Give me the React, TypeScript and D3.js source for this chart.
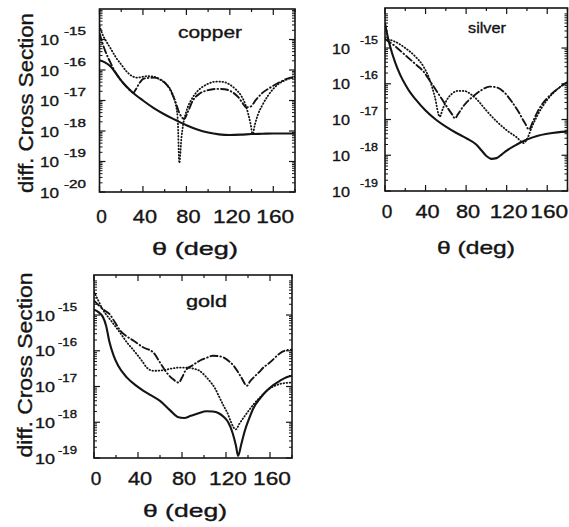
import React from "react";
import * as d3 from "d3";

type Pt = [number, number]; // [theta (deg), log10 of diff. cross section]

const thetaTicks = [0, 40, 80, 120, 160];
const thetaMinor = [20, 60, 100, 140, 180];
const copperExpTicks = [-15, -16, -17, -18, -19, -20];
const silverExpTicks = [-15, -16, -17, -18, -19];
const goldExpTicks = [-15, -16, -17, -18, -19];

// copper
const cuSolid: Pt[] = [[0,-15.68],[5,-15.75],[10,-15.88],[15,-16.1],[20,-16.35],[25,-16.55],[30,-16.72],[40,-17.0],[50,-17.25],[60,-17.46],[70,-17.64],[80,-17.81],[90,-17.95],[100,-18.05],[110,-18.11],[120,-18.13],[130,-18.12],[140,-18.1],[150,-18.09],[160,-18.08],[170,-18.08],[180,-18.08]];
const cuDotted: Pt[] = [[0,-14.55],[3,-14.85],[6,-15.05],[10,-15.28],[15,-15.58],[20,-15.82],[25,-16.05],[30,-16.2],[35,-16.25],[40,-16.22],[45,-16.2],[50,-16.22],[55,-16.3],[60,-16.42],[65,-16.62],[68,-16.85],[70,-17.1],[72,-17.6],[73.5,-19.05],[75.5,-18.2],[77,-17.8],[80,-17.35],[85,-16.95],[90,-16.7],[95,-16.55],[100,-16.45],[105,-16.39],[110,-16.38],[115,-16.4],[120,-16.48],[125,-16.62],[130,-16.82],[134,-17.1],[137,-17.45],[139,-17.75],[141,-18.1],[143,-17.8],[146,-17.45],[150,-17.15],[155,-16.85],[160,-16.62],[165,-16.45],[170,-16.35],[175,-16.28],[180,-16.25]];
const cuDashDot: Pt[] = [[0,-14.8],[5,-15.35],[10,-15.75],[15,-16.1],[20,-16.35],[25,-16.55],[29,-16.7],[31,-16.75],[34,-16.6],[37,-16.42],[41,-16.28],[50,-16.25],[58,-16.35],[65,-16.65],[70,-17.05],[74,-17.45],[78,-17.6],[81,-17.4],[86,-17.0],[92,-16.78],[100,-16.66],[108,-16.62],[115,-16.63],[122,-16.72],[128,-16.9],[132,-17.1],[135,-17.22],[139,-17.2],[144,-16.98],[150,-16.75],[157,-16.58],[166,-16.4],[175,-16.26],[180,-16.24]];

// silver
const agSolid: Pt[] = [[0,-14.3],[2,-14.6],[5,-14.95],[10,-15.4],[15,-15.75],[20,-16.02],[25,-16.25],[30,-16.43],[40,-16.75],[50,-17.0],[60,-17.2],[70,-17.37],[80,-17.52],[90,-17.7],[95,-17.86],[100,-18.02],[105,-18.1],[110,-18.08],[115,-17.98],[120,-17.87],[130,-17.7],[140,-17.56],[150,-17.46],[160,-17.4],[170,-17.36],[180,-17.34]];
const agDotted: Pt[] = [[0,-14.75],[8,-14.8],[20,-15.0],[30,-15.24],[38,-15.52],[44,-15.88],[49,-16.35],[54,-16.92],[57,-16.7],[61,-16.45],[66,-16.28],[72,-16.2],[78,-16.2],[84,-16.28],[90,-16.42],[100,-16.75],[110,-17.05],[120,-17.3],[130,-17.5],[137,-17.66],[140,-17.55],[145,-17.2],[150,-16.9],[160,-16.45],[170,-16.15],[180,-15.95]];
const agDashDot: Pt[] = [[0,-14.75],[10,-14.95],[20,-15.2],[30,-15.45],[38,-15.66],[45,-15.95],[52,-16.25],[60,-16.6],[66,-16.85],[69,-16.97],[72,-16.85],[78,-16.6],[87,-16.35],[95,-16.18],[103,-16.08],[110,-16.1],[118,-16.25],[125,-16.5],[132,-16.8],[138,-17.1],[142,-17.28],[146,-17.05],[152,-16.7],[160,-16.4],[170,-16.15],[180,-15.95]];

// gold
const auSolid: Pt[] = [[0,-14.85],[4,-14.92],[8,-15.05],[11,-15.3],[14,-15.75],[18,-16.15],[22,-16.42],[30,-16.75],[38,-16.97],[45,-17.12],[52,-17.25],[60,-17.4],[69,-17.66],[76,-17.85],[82,-17.88],[88,-17.82],[95,-17.75],[102,-17.69],[108,-17.7],[113,-17.74],[118,-17.85],[122,-18.0],[126,-18.3],[129,-18.65],[131,-18.94],[134,-18.6],[137,-18.25],[141,-17.9],[145,-17.6],[151,-17.33],[157,-17.12],[163,-16.96],[169,-16.84],[175,-16.74],[180,-16.7]];
const auDotted: Pt[] = [[0,-14.35],[4,-14.6],[8,-14.85],[14,-15.1],[19,-15.3],[25,-15.55],[30,-15.77],[35,-15.95],[39,-16.1],[44,-16.3],[48,-16.47],[54,-16.56],[62,-16.55],[70,-16.5],[78,-16.47],[84,-16.47],[90,-16.5],[96,-16.56],[101,-16.7],[105,-16.84],[110,-17.05],[114,-17.3],[118,-17.55],[121,-17.72],[124,-17.95],[127,-18.15],[129,-18.2],[132,-18.05],[136,-17.87],[141,-17.66],[145,-17.5],[151,-17.3],[157,-17.12],[163,-17.0],[169,-16.93],[175,-16.9],[180,-16.89]];
const auDashDot: Pt[] = [[0,-14.6],[5,-14.75],[10,-14.88],[14,-14.97],[19,-15.2],[24,-15.44],[30,-15.6],[36,-15.72],[45,-15.91],[54,-16.05],[60,-16.33],[66,-16.61],[72,-16.8],[77,-16.89],[80,-16.75],[83,-16.56],[90,-16.4],[96,-16.28],[102,-16.2],[108,-16.14],[113,-16.15],[118,-16.19],[123,-16.3],[127,-16.42],[131,-16.6],[134,-16.75],[139,-16.98],[142,-16.85],[145,-16.75],[150,-16.6],[154,-16.47],[159,-16.35],[163,-16.24],[167,-16.12],[171,-16.03],[176,-15.98],[180,-15.97]];

const FONT = "'Liberation Sans', Arial, Helvetica, sans-serif";
const INK = "#141414";

interface PanelSpec {
  id: string;
  label: string;
  left: number; right: number; top: number; bottom: number;
  yMin: number; yMax: number;
  expTicks: number[];
  solid: Pt[]; dotted: Pt[]; dashdot: Pt[];
  tenX: number; tenW: number; supX: number; supW: number;
  xLabBase: number;
  thetaCx: number; thetaW: number; thetaBase: number;
  lab: { x: number; w: number; base: number; fs: number };
  yTitle?: { x: number; cy: number; len: number };
}

const panels: PanelSpec[] = [
  {
    id: "cu", label: "copper", left: 99.5, right: 295, top: 9, bottom: 192,
    yMin: -20, yMax: -14, expTicks: copperExpTicks,
    solid: cuSolid, dotted: cuDotted, dashdot: cuDashDot,
    tenX: 40, tenW: 19, supX: 64, supW: 22,
    xLabBase: 223, thetaCx: 195, thetaW: 86, thetaBase: 255,
    lab: { x: 178, w: 64, base: 38, fs: 17 },
    yTitle: { x: 33, cy: 103, len: 180 },
  },
  {
    id: "ag", label: "silver", left: 385, right: 567.5, top: 8, bottom: 191,
    yMin: -19, yMax: -13.88, expTicks: silverExpTicks,
    solid: agSolid, dotted: agDotted, dashdot: agDashDot,
    tenX: 332, tenW: 18, supX: 360, supW: 18,
    xLabBase: 218, thetaCx: 476, thetaW: 78, thetaBase: 254,
    lab: { x: 468, w: 38, base: 33, fs: 15 },
  },
  {
    id: "au", label: "gold", left: 94, right: 292, top: 275, bottom: 458,
    yMin: -19, yMax: -13.88, expTicks: goldExpTicks,
    solid: auSolid, dotted: auDotted, dashdot: auDashDot,
    tenX: 35, tenW: 20, supX: 58, supW: 19,
    xLabBase: 485, thetaCx: 185, thetaW: 84, thetaBase: 517,
    lab: { x: 186, w: 41, base: 307, fs: 16 },
    yTitle: { x: 32, cy: 365, len: 185 },
  },
];

const textInk = { fill: INK, stroke: INK, strokeWidth: 0.35 };

function Panel({ p }: { p: PanelSpec }) {
  const x = d3.scaleLinear().domain([0, 180]).range([p.left, p.right]);
  const y = d3.scaleLog().domain([Math.pow(10, p.yMin), Math.pow(10, p.yMax)]).range([p.bottom, p.top]);
  const line = d3
    .line<Pt>()
    .x((d) => x(d[0]))
    .y((d) => y(Math.pow(10, d[1])))
    .curve(d3.curveMonotoneX);

  const minorY: number[] = [];
  for (let n = Math.floor(p.yMin); n <= Math.ceil(p.yMax); n++) {
    for (let k = 2; k <= 9; k++) {
      const v = k * Math.pow(10, n);
      if (v > Math.pow(10, p.yMin) && v < Math.pow(10, p.yMax)) minorY.push(v);
    }
  }
  const majorLen = 6;
  const minorLen = 3;
  const clipId = `clip-${p.id}`;

  return (
    <g>
      <defs>
        <clipPath id={clipId}>
          <rect x={p.left} y={p.top} width={p.right - p.left} height={p.bottom - p.top} />
        </clipPath>
      </defs>
      <rect x={p.left} y={p.top} width={p.right - p.left} height={p.bottom - p.top}
        fill="none" stroke={INK} strokeWidth={1.6} />
      {thetaTicks.concat(thetaMinor).map((t) => {
        const len = thetaTicks.includes(t) ? majorLen : minorLen;
        const xx = x(t);
        return (
          <g key={`xt${t}`} stroke={INK} strokeWidth={1.2}>
            <line x1={xx} x2={xx} y1={p.bottom} y2={p.bottom - len} />
            <line x1={xx} x2={xx} y1={p.top} y2={p.top + len} />
          </g>
        );
      })}
      {p.expTicks.map((e) => {
        const yy = y(Math.pow(10, e));
        return (
          <g key={`yt${e}`} stroke={INK} strokeWidth={1.2}>
            <line x1={p.left} x2={p.left + majorLen} y1={yy} y2={yy} />
            <line x1={p.right} x2={p.right - majorLen} y1={yy} y2={yy} />
          </g>
        );
      })}
      {minorY.map((v, i) => {
        const yy = y(v);
        return (
          <g key={`ym${i}`} stroke={INK} strokeWidth={1}>
            <line x1={p.left} x2={p.left + minorLen} y1={yy} y2={yy} />
            <line x1={p.right} x2={p.right - minorLen} y1={yy} y2={yy} />
          </g>
        );
      })}
      <g clipPath={`url(#${clipId})`} fill="none" stroke={INK}>
        <path d={line(p.solid) || ""} strokeWidth={2.1} strokeLinejoin="round" />
        <path d={line(p.dotted) || ""} strokeWidth={1.8} strokeDasharray="0.6 2.5" strokeLinecap="round" />
        <path d={line(p.dashdot) || ""} strokeWidth={1.9} strokeDasharray="7 3 0.6 3" strokeLinecap="round" />
      </g>
      {p.expTicks.map((e) => {
        const yy = y(Math.pow(10, e));
        return (
          <g key={`yl${e}`} {...textInk} fontFamily={FONT}>
            <text x={p.tenX} y={yy + 5.5} fontSize={15} textLength={p.tenW} lengthAdjust="spacingAndGlyphs">10</text>
            <text x={p.supX} y={yy - 4.5} fontSize={10.5} textLength={p.supW} lengthAdjust="spacingAndGlyphs">{String(e)}</text>
          </g>
        );
      })}
      {thetaTicks.map((t) => {
        const s = String(t);
        const w = s.length * 13.6 - 3;
        return (
          <text key={`xl${t}`} x={x(t) + 2 - w / 2} y={p.xLabBase} fontSize={18.5} fontFamily={FONT} {...textInk}
            textLength={w} lengthAdjust="spacingAndGlyphs">{s}</text>
        );
      })}
      <text x={p.thetaCx - p.thetaW / 2} y={p.thetaBase} fontSize={19} fontFamily={FONT} {...textInk}
        textLength={p.thetaW} lengthAdjust="spacingAndGlyphs">θ (deg)</text>
      <text x={p.lab.x} y={p.lab.base} fontSize={p.lab.fs} fontFamily={FONT} {...textInk}
        textLength={p.lab.w} lengthAdjust="spacingAndGlyphs">{p.label}</text>
      {p.yTitle && (
        <text transform={`translate(${p.yTitle.x},${p.yTitle.cy + p.yTitle.len / 2}) rotate(-90)`}
          x={0} y={0} fontSize={20} fontFamily={FONT} {...textInk}
          textLength={p.yTitle.len} lengthAdjust="spacingAndGlyphs">diff. Cross Section</text>
      )}
    </g>
  );
}

export default function App() {
  return (
    <svg width={569} height={527} viewBox="0 0 569 527"
      style={{ position: "absolute", left: 0, top: 0, background: "#fff" }}>
      <rect x={0} y={0} width={569} height={527} fill="#fff" />
      {panels.map((p) => (
        <Panel key={p.id} p={p} />
      ))}
    </svg>
  );
}
